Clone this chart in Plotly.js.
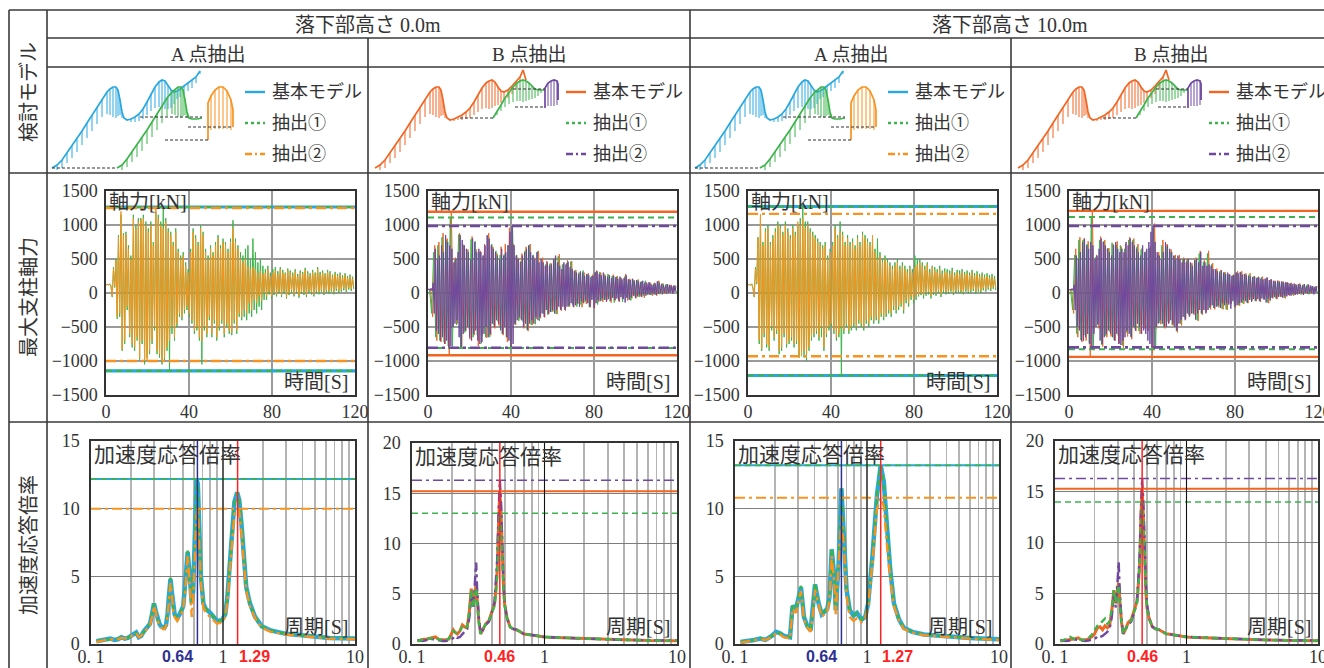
<!DOCTYPE html>
<html>
<head>
<meta charset="utf-8">
<script src="https://cdn.plot.ly/plotly-3.0.1.min.js"></script>
<style>
html,body{margin:0;padding:0;background:#ffffff;overflow:hidden;}
#chart{width:1324px;height:668px;}
</style>
</head>
<body>
<div id="chart"></div>
<script>
// ================= DATA =================
const heightLabels = ['落下部高さ 0.0m', '落下部高さ 10.0m'];
const pointLabels = ['A 点抽出', 'B 点抽出', 'A 点抽出', 'B 点抽出'];
const rowLabels = ['検討モデル', '最大支柱軸力', '加速度応答倍率'];
const seriesNames = ['基本モデル', '抽出①', '抽出②'];
const axialTitle = '軸力[kN]', timeTitle = '時間[S]';
const specTitle = '加速度応答倍率', periodTitle = '周期[S]';
const timeTicks = [0, 40, 80, 120];
const axialTicks = [-1500, -1000, -500, 0, 500, 1000, 1500];
const periodTicks = [0.1,0.2,0.3,0.4,0.5,0.6,0.7,0.8,0.9,1,2,3,4,5,6,7,8,9,10];
const periodTickText = ['0. 1','','','','','','','','','1','','','','','','','','','10'];
const ratioTicksA = [0, 5, 10, 15];
const ratioTicksB = [0, 5, 10, 15, 20];

// sampling of the axial-force histories [s]
const stepA = 0.6, stepPurple = 0.5, stepB = 1.0;

// ---- axial force, A point, drop height 0.0 m ----
const axA00_green = [120,128,115,135,100,-60,380,80,500,-380,
850,-350,1150,-850,880,-750,900,-250,700,-650,
550,-800,1150,-850,1000,-700,1100,-980,1100,-750,
1150,-1050,1050,-950,950,-900,1050,-750,750,-550,
1200,-900,1150,-950,1050,-1050,1260,-1000,1100,-850,
950,-1150,900,-600,750,-700,950,-500,650,-350,
550,-400,600,-300,450,-250,350,-350,650,-450,
950,-600,850,-550,750,-700,1000,-1050,900,-550,
650,-650,550,-400,700,-650,600,-450,750,-700,
850,-550,700,-450,800,-650,750,-500,650,-600,
800,-620,1070,-450,800,-600,700,-350,600,-400,
550,-350,650,-400,700,-300,500,-350,800,-250,
600,-300,450,-200,500,-250,400,-100,350,-100,
400,-20,300,-80,350,-30,380,-50,320,0,
380,-60,340,-10,300,-80,360,-30,330,10,
300,-50,350,0,280,-70,330,-10,310,-30,
370,-60,320,10,290,-20,340,-50,300,0,
380,-20,310,20,330,-30,290,10,340,-10,
320,20,270,-20,310,30,280,0,300,20,
260,40,290,10,250,50,270,30,240,60];
const axA00_orange = [120,125,118,130,110,-50,350,100,480,-350,
820,-300,1200,-830,850,-700,860,-200,650,-600,
500,-750,1100,-800,950,-650,1050,-950,1080,-700,
1100,-1000,1000,-1000,900,-850,1000,-700,700,-500,
1250,-850,1100,-900,1000,-1000,950,-950,1050,-800,
900,-700,850,-500,700,-650,900,-450,600,-300,
500,-350,550,-250,400,-200,300,-300,600,-400,
900,-550,800,-500,700,-650,950,-700,850,-500,
600,-600,500,-350,650,-600,550,-400,700,-650,
800,-500,650,-400,750,-600,700,-450,600,-550,
750,-580,950,-400,750,-550,650,-300,500,-350,
450,-250,500,-300,400,-150,350,-250,380,-100,
350,-150,300,-50,320,-120,280,0,300,-50,
350,20,250,-50,300,0,330,-20,280,30,
350,-30,300,20,280,-60,330,0,300,40,
260,-20,320,30,250,-40,300,20,280,0,
340,-30,290,40,260,10,310,-20,270,30,
350,10,280,50,300,0,260,40,310,20,
290,50,240,10,280,60,250,30,270,50,
230,70,260,40,220,80,240,60,210,90];
const axMaxA00 = [1265, 1265, 1250];   // 基本, 抽出①, 抽出②
const axMinA00 = [-1145, -1145, -1000];

// ---- axial force, B point, drop height 0.0 m ----
const axB00_purple = [50,60,40,70,30,150,-300,650,-550,500,
-600,550,-700,700,-650,600,-750,850,-700,750,
-800,700,-780,650,-500,450,-450,500,-400,600,
-650,850,-800,780,-600,700,-550,650,-500,600,
-650,500,-700,800,-600,750,-550,600,-700,650,
-750,600,-720,550,-600,700,-500,850,-650,800,
-600,700,-450,650,-500,600,-400,550,-450,500,
-550,650,-600,550,-500,600,-650,700,-700,900,
-800,985,-750,700,-450,550,-400,500,-350,450,
-400,550,-500,600,-450,650,-540,700,-450,600,
-400,550,-450,500,-350,600,-400,450,-350,500,
-300,450,-350,400,-250,450,-300,400,-280,420,
-250,500,-300,550,-250,450,-200,400,-250,350,
-200,450,-250,420,-200,460,-180,380,-150,350,
-200,320,-180,300,-150,280,-200,320,-120,300,
-150,250,-100,280,-150,260,-200,230,-100,250,
-220,300,-150,320,-100,280,-120,260,-80,300,
-100,250,-130,240,-90,260,-110,220,-70,250,
-100,230,-80,210,-120,240,-60,200,-90,220,
-140,260,-70,200,-100,190,-60,210,-40,180,
-70,190,-50,170,-30,160,-60,180,-20,150,
-40,140,-10,160,-30,130,0,120,-20,140,
-30,170,-10,150,0,130,-20,120,10,110,
-10,130,0,120,10,100,-10,110,20,100];
const axB00_orange = [50,60,-350,700,-700,750,-720,880,-750,800,
-915,1195,-500,520,-450,880,-820,700,-560,640,
-680,830,-620,640,-780,620,-620,720,-660,880,
-620,680,-520,580,-480,680,-620,720,-720,960,
-790,720,-470,520,-380,580,-520,680,-560,720,
-470,520,-380,620,-370,520,-360,470,-310,440,
-270,520,-310,570,-260,420,-260,480,-200,470,
-210,340,-160,300,-210,300,-160,290,-210,270,
-230,330,-130,300,-130,270,-110,260,-140,270,
-110,250,-130,220,-80,280,-110,210,-80,190,
-80,200,-50,170,-70,160,-20,150,-40,150,
-40,180,-10,140,-10,130,10,120,10,110];
const axB00_green = [50,-300,600,-650,700,-700,820,-720,780,-780,
1110,-810,480,-470,860,-800,720,-580,630,-520,
790,-650,760,-620,600,-740,550,-650,840,-650,
720,-470,620,-420,560,-600,570,-650,700,-805,
980,-460,560,-410,470,-420,620,-540,700,-470,
560,-460,610,-410,470,-310,420,-320,430,-280,
500,-310,540,-220,420,-220,440,-200,460,-170,
330,-200,300,-170,330,-130,270,-210,250,-110,
310,-170,310,-110,280,-100,280,-120,250,-140,
240,-90,230,-130,240,-70,200,-110,200,-50,
190,-60,170,-40,180,-30,150,-30,140,-20,
170,-20,140,0,130,0,110,20,110,10];
const axMaxB00 = [1195, 1110, 985];    // 基本, 抽出①, 抽出②
const axMinB00 = [-915, -810, -805];

// ---- axial force, A point, drop height 10.0 m ----
const axA10_green = [120,128,112,135,70,-60,380,130,820,-750,
1100,-850,750,-650,950,-800,1000,-850,750,-550,
850,-700,950,-600,1050,-900,1000,-850,900,-650,
1050,-800,950,-750,850,-700,1000,-800,900,-750,
1000,-950,1100,-900,1272,-950,1050,-1000,1050,-850,
950,-700,900,-650,850,-600,800,-700,750,-650,
700,-850,750,-650,550,-550,650,-500,750,-600,
1000,-700,850,-650,1050,-1215,900,-600,750,-500,
850,-600,750,-550,800,-500,700,-550,850,-450,
750,-500,900,-550,850,-450,800,-500,750,-400,
800,-450,650,-400,800,-450,600,-350,500,-400,
550,-350,500,-300,450,-350,400,-250,450,-300,
500,-250,400,-200,450,-300,400,-150,350,-200,
400,-100,350,-150,550,-100,500,-50,500,-30,
450,-80,400,-40,450,-20,350,-80,400,-30,
380,-40,350,0,400,-60,330,0,360,-20,
350,-10,330,20,370,-30,300,0,340,10,
330,0,350,-20,310,20,330,-10,300,10,
340,30,290,-10,320,20,280,0,300,40,
270,20,290,50,260,30,280,60,250,40];
const axA10_orange = [120,125,115,130,80,-50,350,150,800,-690,
1160,-815,700,-600,900,-750,950,-800,700,-500,
800,-650,900,-550,1000,-850,950,-800,850,-600,
1000,-750,900,-700,800,-650,950,-750,850,-700,
1050,-900,1000,-930,1100,-850,950,-900,1000,-800,
900,-650,850,-600,800,-550,750,-650,700,-500,
650,-800,700,-600,500,-500,600,-450,700,-550,
950,-650,800,-600,900,-500,850,-550,700,-450,
800,-550,700,-500,750,-450,650,-500,800,-400,
700,-450,850,-500,800,-400,750,-450,700,-350,
850,-400,600,-350,500,-400,550,-300,450,-350,
500,-300,450,-250,400,-300,350,-200,400,-250,
450,-200,350,-150,400,-250,350,-100,300,-150,
350,-50,300,-100,380,-50,420,-20,450,0,
400,-30,350,0,420,20,300,-40,380,10,
330,0,300,30,350,-20,280,40,320,10,
300,20,280,50,320,0,260,30,300,40,
280,30,310,10,270,50,290,20,260,40,
300,60,250,20,280,50,240,30,260,70,
230,50,250,80,220,60,240,90,210,70];
const axMaxA10 = [1272, 1272, 1163];
const axMinA10 = [-1213, -1213, -930];

// ---- axial force, B point, drop height 10.0 m ----
const axB10_purple = [40,55,45,65,35,120,-250,550,-500,500,
-550,600,-700,750,-700,800,-650,700,-600,650,
-750,750,-800,700,-600,500,-500,550,-450,650,
-700,800,-750,750,-650,700,-600,650,-550,600,
-600,550,-650,700,-700,750,-600,650,-750,600,
-765,650,-700,600,-650,750,-550,700,-600,800,
-650,750,-500,700,-550,650,-450,600,-500,550,
-600,700,-550,600,-600,650,-700,750,-750,900,
-800,985,-780,750,-500,600,-450,550,-400,500,
-450,600,-500,750,-500,700,-450,650,-400,600,
-450,550,-500,500,-550,550,-450,500,-400,450,
-350,500,-400,450,-300,500,-350,450,-300,400,
-300,480,-390,500,-300,450,-250,600,-300,400,
-250,450,-300,400,-250,420,-200,400,-180,350,
-220,350,-200,320,-180,300,-220,330,-150,300,
-180,280,-150,300,-170,270,-230,250,-120,260,
-200,300,-180,290,-150,310,-140,270,-100,280,
-120,260,-140,250,-100,240,-130,230,-90,240,
-110,220,-90,230,-120,210,-80,200,-100,210,
-140,230,-80,190,-110,200,-70,180,-60,170,
-80,180,-60,160,-50,170,-70,150,-40,160,
-50,150,-30,140,-40,130,-10,140,-30,120,
-20,130,-10,120,0,110,-30,130,0,100,
-10,120,10,110,0,100,-20,90,10,100];
const axB10_orange = [40,60,-300,650,-650,820,-720,800,-700,760,
-940,1208,-520,560,-520,830,-790,780,-650,660,
-640,720,-700,760,-740,680,-810,720,-640,820,
-680,800,-560,720,-600,660,-520,620,-560,690,
-890,1020,-520,600,-460,780,-520,720,-440,640,
-480,560,-580,560,-480,520,-380,510,-330,440,
-320,520,-410,620,-320,480,-280,620,-240,440,
-240,360,-210,340,-240,310,-250,280,-160,270,
-220,320,-190,320,-160,290,-150,290,-110,250,
-120,240,-130,240,-90,220,-150,200,-80,180,
-90,180,-60,170,-80,160,-40,150,-40,130,
-20,140,-20,130,0,130,-10,100,10,100];
const axB10_green = [45,-250,560,-600,780,-690,780,-620,720,-740,
1119,-826,530,-470,780,-760,760,-630,660,-570,
740,-690,700,-630,700,-770,650,-580,780,-640,
780,-520,680,-560,640,-470,600,-540,660,-700,
950,-780,560,-440,700,-500,680,-420,600,-470,
540,-560,520,-450,500,-360,480,-320,420,-300,
480,-400,580,-300,460,-260,580,-220,420,-220,
340,-200,320,-230,300,-240,260,-150,260,-210,
300,-180,300,-150,270,-140,270,-100,240,-120,
230,-120,230,-80,210,-140,190,-70,170,-80,
170,-50,160,-70,150,-30,140,-30,120,-10,
130,-20,120,0,120,-20,90,10,100,0];
const axMaxB10 = [1208, 1119, 985];
const axMinB10 = [-940, -826, -800];

// ---- acceleration response ratio, A point, 0.0 m ----
const spT_A00 = [0.11,0.12,0.13,0.14,0.15,0.16,0.17,0.18,0.19,0.20,
0.21,0.22,0.23,0.24,0.25,0.26,0.27,0.28,0.29,0.30,
0.31,0.32,0.33,0.34,0.35,0.36,0.37,0.38,0.39,0.40,
0.41,0.42,0.43,0.45,0.47,0.50,0.52,0.54,0.555,0.57,
0.58,0.595,0.61,0.63,0.645,0.66,0.68,0.71,0.74,0.80,
0.85,0.90,0.98,1.04,1.08,1.12,1.17,1.22,1.28,1.33,
1.39,1.45,1.50,1.60,1.75,1.97,2.3,3.0,4.3,6.4,10];
const spA00_blue = [0.2,0.25,0.3,0.4,0.3,0.35,0.5,0.4,0.45,0.6,
0.7,0.85,0.5,0.6,0.9,1.1,1.3,1.5,2.2,3.0,
2.4,1.8,1.5,1.3,1.2,1.2,1.4,2.2,3.6,4.8,
3.8,2.6,2.2,1.9,2.2,2.8,4.5,6.8,5.5,3.5,
3.0,4.0,7.0,12.2,11.8,8.0,5.0,3.0,2.6,2.3,
2.0,1.7,1.75,2.2,3.5,5.5,8.5,10.5,11.2,10.6,
8.5,6.0,4.2,3.0,2.0,1.3,1.0,0.75,0.6,0.45,0.4];
const spA00_green = [0.2,0.3,0.3,0.35,0.3,0.4,0.5,0.45,0.45,0.6,
0.75,0.8,0.55,0.6,0.9,1.1,1.3,1.5,2.3,3.0,
2.4,1.8,1.5,1.3,1.2,1.2,1.4,2.3,3.7,4.9,
3.8,2.6,2.2,1.9,2.2,2.8,4.5,6.9,5.5,3.5,
3.0,4.0,7.0,12.2,11.7,8.0,5.0,3.0,2.6,2.3,
2.0,1.7,1.75,2.2,3.5,5.5,8.5,10.5,11.2,10.6,
8.5,6.0,4.2,3.0,2.0,1.3,1.0,0.75,0.6,0.45,0.4];
const spA00_orange = [0.15,0.25,0.3,0.35,0.3,0.35,0.45,0.4,0.45,0.55,
0.7,0.8,0.5,0.6,0.8,1.0,1.2,1.4,2.0,2.8,
2.3,1.7,1.4,1.2,1.1,1.1,1.3,2.0,3.4,4.5,
3.6,2.4,2.0,1.7,2.0,2.6,4.2,6.5,5.0,3.0,
2.0,3.5,6.0,9.6,10.0,7.5,4.6,2.7,2.3,2.0,
1.7,1.5,1.6,2.0,3.2,5.0,7.8,9.6,10.0,9.7,
7.8,5.6,3.9,2.8,1.9,1.2,0.9,0.7,0.55,0.4,0.35];
const spMaxA00 = [12.2, 12.2, 10.0];
const spRefA00 = [0.64, 1.29];

// ---- acceleration response ratio, B point, 0.0 m ----
const spT_B00 = [0.11,0.12,0.13,0.14,0.15,0.16,0.17,0.18,0.19,0.20,
0.205,0.21,0.22,0.23,0.24,0.25,0.26,0.27,0.28,0.29,
0.30,0.305,0.31,0.32,0.33,0.34,0.36,0.38,0.40,0.42,
0.43,0.44,0.45,0.46,0.47,0.48,0.49,0.50,0.52,0.55,
0.58,0.62,0.66,0.70,0.75,0.80,0.90,1.0,1.2,1.5,
2.0,3.0,4.0,6.0,10.0];
const spB00_orange = [0.3,0.45,0.5,0.6,0.7,0.45,0.4,0.4,0.5,1.2,
1.4,1.2,1.0,1.3,1.9,1.7,1.6,3.0,5.5,3.8,
5.2,5.9,4.5,2.2,1.0,1.4,2.0,2.3,3.2,4.0,
5.5,7.5,12.0,15.2,13.0,9.0,6.0,4.0,2.7,1.7,
1.5,1.4,1.2,1.0,0.95,0.9,0.8,0.7,0.65,0.6,
0.55,0.45,0.4,0.35,0.33];
const spB00_green = [0.3,0.4,0.55,0.55,0.65,0.45,0.45,0.4,0.55,1.1,
1.3,1.2,1.0,1.3,1.8,1.6,1.7,3.2,5.4,3.6,
5.0,5.6,4.2,2.0,1.0,1.4,2.0,2.3,3.1,3.8,
5.0,6.8,10.5,13.0,11.5,8.0,5.5,3.8,2.6,1.7,
1.5,1.4,1.2,1.0,0.95,0.9,0.8,0.7,0.65,0.6,
0.55,0.45,0.4,0.35,0.33];
const spB00_purple = [0.4,0.3,0.4,0.5,0.45,0.35,0.3,0.3,0.35,0.5,
0.6,0.8,0.6,0.7,1.0,1.2,1.5,2.5,4.8,3.5,
6.5,8.1,5.5,2.5,1.0,1.3,1.9,2.2,3.1,4.2,
6.0,8.5,13.0,16.3,14.0,9.5,6.2,4.0,2.6,1.7,
1.5,1.4,1.2,1.0,0.95,0.9,0.8,0.7,0.65,0.6,
0.55,0.45,0.4,0.38,0.35];
const spMaxB00 = [15.2, 13.0, 16.3];
const spRefB00 = [0.46];

// ---- acceleration response ratio, A point, 10.0 m ----
const spT_A10 = [0.11,0.126,0.14,0.155,0.17,0.19,0.205,0.219,0.235,0.261,
0.273,0.29,0.303,0.316,0.333,0.354,0.374,0.39,0.404,0.43,
0.454,0.50,0.52,0.54,0.565,0.58,0.61,0.64,0.67,0.70,
0.74,0.79,0.84,0.91,0.97,1.02,1.1,1.19,1.27,1.34,
1.41,1.5,1.6,1.75,1.9,2.2,2.7,4.0,6.0,10.0];
const spA10_blue = [0.15,0.2,0.3,0.4,0.3,0.6,0.9,0.8,0.6,0.5,
2.8,2.6,3.5,4.2,2.0,1.3,1.0,2.5,4.4,3.0,
2.2,2.6,3.5,7.0,5.0,2.5,6.0,11.5,8.0,4.0,
2.5,2.1,2.3,1.8,2.0,3.0,6.5,11.0,13.2,12.0,
9.0,5.5,3.0,1.8,1.2,0.9,0.7,0.55,0.45,0.35];
const spA10_green = [0.15,0.25,0.3,0.45,0.3,0.6,0.85,0.8,0.6,0.5,
2.9,2.7,3.6,4.3,2.0,1.3,1.0,2.6,4.5,3.0,
2.2,2.6,3.6,7.1,5.0,2.5,6.0,11.5,8.0,4.0,
2.5,2.1,2.3,1.8,2.0,3.0,6.5,11.0,13.2,12.0,
9.0,5.5,3.0,1.8,1.2,0.9,0.7,0.55,0.45,0.35];
const spA10_orange = [0.1,0.2,0.25,0.35,0.3,0.5,0.8,0.7,0.5,0.4,
2.6,2.3,3.2,3.9,1.8,1.2,0.9,2.3,4.0,2.8,
2.0,2.4,3.2,6.5,4.5,2.2,5.5,9.5,7.0,3.6,
2.0,1.7,1.9,1.6,1.9,2.8,6.0,10.0,10.8,10.2,
7.5,4.8,2.8,1.7,1.1,0.85,0.65,0.5,0.4,0.3];
const spMaxA10 = [13.2, 13.2, 10.8];
const spRefA10 = [0.64, 1.27];

// ---- acceleration response ratio, B point, 10.0 m ----
const spT_B10 = [0.11,0.12,0.13,0.14,0.15,0.16,0.17,0.18,0.19,0.20,
0.205,0.21,0.22,0.23,0.24,0.25,0.26,0.27,0.28,0.29,
0.30,0.305,0.31,0.32,0.33,0.34,0.36,0.38,0.40,0.42,
0.43,0.44,0.45,0.46,0.47,0.48,0.49,0.50,0.52,0.55,
0.58,0.62,0.66,0.70,0.75,0.80,0.90,1.0,1.2,1.5,
2.0,3.0,4.0,6.0,10.0];
const spB10_orange = [0.3,0.4,0.45,0.5,0.6,0.4,0.4,0.5,0.7,1.0,
1.3,1.6,1.7,1.4,1.8,1.6,1.8,3.2,5.3,4.0,
5.6,6.0,4.6,2.2,1.0,1.3,2.1,2.4,3.3,4.2,
5.8,7.8,12.5,15.3,12.5,8.5,5.5,3.6,2.5,1.7,
1.5,1.4,1.2,1.0,0.95,0.9,0.8,0.7,0.65,0.6,
0.5,0.45,0.4,0.35,0.33];
const spB10_green = [0.3,0.45,0.7,0.5,0.5,0.4,0.45,0.6,0.9,1.3,
1.6,1.8,2.0,2.3,2.5,2.0,2.2,3.4,5.3,4.0,
5.5,5.8,4.4,2.1,1.0,1.3,2.0,2.3,3.2,4.0,
5.5,7.5,11.5,14.0,12.0,8.0,5.3,3.5,2.5,1.7,
1.5,1.4,1.2,1.0,0.95,0.9,0.8,0.7,0.65,0.6,
0.5,0.45,0.4,0.35,0.33];
const spB10_purple = [0.4,0.3,0.35,0.45,0.4,0.35,0.3,0.35,0.4,0.5,
0.6,0.8,0.7,0.8,1.0,1.2,1.5,2.6,4.8,3.6,
6.5,8.1,5.5,2.5,1.0,1.3,1.9,2.2,3.1,4.2,
6.0,8.5,13.0,16.3,14.0,9.5,6.2,4.0,2.6,1.7,
1.5,1.4,1.2,1.0,0.95,0.9,0.8,0.7,0.65,0.6,
0.55,0.45,0.4,0.38,0.35];
const spMaxB10 = [15.3, 14.0, 16.3];
const spRefB10 = [0.46];
const unitPeriod = 1.0;

// ---- schematic model drawings (cell-relative units) ----
const schA_baseX = [5,10,15,20,25,30,35,40,45,50,55,60,63,66,69,71,73,75,77,80,84,88,92,96,100,104,108,112,115,118,121,124,127,130,133,137,141,145,149,153];
const schA_baseY = [168,165,160,153,146,139,131,123,115,107,99,92,89,87,87,90,100,112,118,120,119,117,114,109,102,94,87,82,80,81,85,90,92,91,89,86,83,80,77,71];
const schA_baseL = [0,5,8,10,12,13,14,15,16,17,18,22,26,30,31,26,15,6,0,0,3,5,7,10,13,17,21,25,28,28,24,18,12,8,8,8,8,8,6,3];
const schA_ex1X = [70,75,80,85,90,95,100,105,110,115,120,125,128,131,134,136,138,140,142,145,150,155];
const schA_ex1Y = [168,165,159,152,145,138,130,122,114,106,98,92,89,87,87,90,100,112,118,119,119,118];
const schA_ex1L = [0,5,8,10,12,13,14,15,16,17,18,22,26,30,31,26,15,6,0,0,0,0];
const schA_ex2X = [161,161,164,168,172,176,180,184,186,186];
const schA_ex2Y = [140,103,96,90,87,87,91,100,110,127];
const schA_ex2L = [0,0,34,39,42,42,38,30,0,0];
const schA_dashX = [5,70,null,93,155,null,118,163,null,141,186];
const schA_dashY = [168,168,null,117,117,null,140,140,null,127,127];

const schB_baseX = [7,12,17,22,27,32,37,42,47,52,57,62,65,68,71,73,75,77,79,82,86,90,94,98,102,106,110,114,118,121,124,127,130,133,136,140,144,148,152,155,158];
const schB_baseY = [168,165,160,153,146,139,131,123,115,107,99,92,89,87,87,90,100,112,118,120,119,117,115,112,108,102,95,88,83,81,80,82,87,91,92,90,86,82,77,70,80];
const schB_baseL = [0,5,8,10,12,13,14,15,16,17,18,22,26,30,31,26,15,6,0,0,2,3,5,7,10,13,17,21,25,28,28,24,18,12,8,8,8,7,5,0,0];
const schB_ex1X = [125,129,133,137,141,145,149,152,155,158,161,164,167,170,173,177];
const schB_ex1Y = [118,112,105,98,92,87,83,81,80,81,83,86,89,90,90,90];
const schB_ex1L = [0,3,6,9,12,15,18,20,22,20,17,13,9,6,3,0];
const schB_ex2X = [177,177,180,183,186,189,190,190];
const schB_ex2Y = [108,88,83,81,80,81,84,100];
const schB_ex2L = [0,0,23,25,26,24,16,0];
const schB_dashX = [92,125,null,145,177,null,147,177];
const schB_dashY = [118,118,null,89,89,null,107,107];

// ================= RENDERING =================
const W = 1324, H = 668;
const px = v => v / W, py = v => 1 - v / H;
const CLR = {blue:'#29a8e0', green:'#3cb44b', orange:'#f7931e', vermil:'#f26522', purple:'#7048a0',
             navy:'#2e3192', red:'#ff2222', ink:'#333333'};
const NUM = 'Liberation Serif, Noto Sans CJK JP, serif';
const JP = 'Liberation Serif, Noto Sans CJK JP, sans-serif';
const colL = [47, 368, 690, 1011], colR = [368, 690, 1011, 1324];
const axBox = [[106,355],[428,677],[748,997],[1069,1318]], axTop = 191, axBot = 395;
const spBox = [[91,355],[412,677],[735,999],[1055,1318]], spTop = [441,443,441,441], spBot = 644;

const id = n => n === 1 ? '' : String(n);
const layout = {width:W, height:H, autosize:false, margin:{l:0,r:0,t:0,b:0,pad:0},
  paper_bgcolor:'#ffffff', plot_bgcolor:'#ffffff', showlegend:false, hovermode:false,
  shapes:[], annotations:[]};
const data = [];
function ann(o){ layout.annotations.push(Object.assign({showarrow:false, xanchor:'center', yanchor:'middle',
  font:{family:JP,size:18,color:CLR.ink}}, o)); }
function line(ax, x, y, color, width, dash){
  data.push({type:'scatter', mode:'lines', x:x, y:y, xaxis:'x'+id(ax), yaxis:'y'+id(ax),
    line:{color:color, width:width, dash:dash||'solid'}, hoverinfo:'skip', connectgaps:false});
}
function series(ax, y, x0, dx, color, width){
  data.push({type:'scatter', mode:'lines', y:y, x0:x0, dx:dx, xaxis:'x'+id(ax), yaxis:'y'+id(ax),
    line:{color:color, width:width}, hoverinfo:'skip'});
}
function hatch(X, Y, L){ const x=[], y=[]; for(let i=0;i<X.length;i++){ if(L[i]>0){ x.push(X[i],X[i],null); y.push(Y[i],Y[i]+L[i],null);} } return {x,y}; }

const DASH = '6px,4px', DASHDOT = '10px,4px,3px,4px', LEG_DOT = '3px,3px', LEG_DD = '7px,3px,2px,3px';

// ---- table grid ----
const gridLines = [
  [9,10,W,10],[47,38,W,38],[47,67,W,67],[9,173,W,173],[9,422,W,422],
  [9,10,9,H],[47,10,47,H],[368,38,368,H],[690,10,690,H],[1011,38,1011,H]];
gridLines.forEach(g => layout.shapes.push({type:'line', xref:'paper', yref:'paper',
  x0:px(g[0]), y0:py(g[1]), x1:px(g[2]), y1:py(g[3]), line:{color:'#3a3a3a', width:1.6}}));

ann({text:heightLabels[0], xref:'paper', yref:'paper', x:px(368), y:py(25), font:{family:JP,size:20,color:CLR.ink}});
ann({text:heightLabels[1], xref:'paper', yref:'paper', x:px(1010), y:py(25), font:{family:JP,size:20,color:CLR.ink}});
[207.5, 529, 850.5, 1171].forEach((cx,i) => ann({text:pointLabels[i], xref:'paper', yref:'paper', x:px(cx), y:py(54), font:{family:JP,size:19,color:CLR.ink}}));
[92, 297, 545].forEach((cy,i) => ann({text:rowLabels[i], xref:'paper', yref:'paper', x:px(29), y:py(cy), textangle:-90, font:{family:JP,size:20,color:CLR.ink}}));

// ---- row 1: schematic models ----
const schemA = {parts:[[schA_baseX,schA_baseY,schA_baseL],[schA_ex1X,schA_ex1Y,schA_ex1L],[schA_ex2X,schA_ex2Y,schA_ex2L]],
  dash:[schA_dashX,schA_dashY], colors:[CLR.blue,CLR.green,CLR.orange]};
const schemB = {parts:[[schB_baseX,schB_baseY,schB_baseL],[schB_ex1X,schB_ex1Y,schB_ex1L],[schB_ex2X,schB_ex2Y,schB_ex2L]],
  dash:[schB_dashX,schB_dashY], colors:[CLR.vermil,CLR.green,CLR.purple]};
for(let i=0;i<4;i++){
  const n = i+1, s = (i%2===0) ? schemA : schemB;
  layout['xaxis'+id(n)] = {domain:[px(colL[i]),px(colR[i])], range:[0,colR[i]-colL[i]], visible:false, fixedrange:true, anchor:'y'+id(n)};
  layout['yaxis'+id(n)] = {domain:[py(172),py(68)], range:[172,68], visible:false, fixedrange:true, anchor:'x'+id(n)};
  s.parts.forEach((p,k) => {
    const h = hatch(p[0],p[1],p[2]);
    line(n, h.x, h.y, s.colors[k], 1);
    line(n, p[0], p[1], s.colors[k], 1.7);
  });
  line(n, s.dash[0], s.dash[1], '#333333', 1.2, '3px,2px');
  const legY = [92,123,154], legDash = ['solid', LEG_DOT, LEG_DD];
  for(let k=0;k<3;k++){
    line(n, [198,218], [legY[k],legY[k]], s.colors[k], 2.4, legDash[k]);
    ann({text:seriesNames[k], xref:'x'+id(n), yref:'y'+id(n), x:223, y:legY[k], xanchor:'left', yanchor:'middle',
      font:{family:JP,size:18,color:CLR.ink}});
  }
}

// ---- row 2: axial-force histories ----
const axialPanels = [
  {ts:[[axA00_green,0,stepA,CLR.green],[axA00_orange,0,stepA,CLR.orange]], max:axMaxA00, min:axMinA00, kind:'A'},
  {ts:[[axB00_orange,0.25,stepB,CLR.vermil],[axB00_green,0.75,stepB,CLR.green],[axB00_purple,0,stepPurple,CLR.purple]], max:axMaxB00, min:axMinB00, kind:'B'},
  {ts:[[axA10_green,0,stepA,CLR.green],[axA10_orange,0,stepA,CLR.orange]], max:axMaxA10, min:axMinA10, kind:'A'},
  {ts:[[axB10_orange,0.25,stepB,CLR.vermil],[axB10_green,0.75,stepB,CLR.green],[axB10_purple,0,stepPurple,CLR.purple]], max:axMaxB10, min:axMinB10, kind:'B'}];
const tEnd = timeTicks[timeTicks.length-1];
axialPanels.forEach((P,i) => {
  const n = i+5;
  layout['xaxis'+id(n)] = {domain:[px(axBox[i][0]),px(axBox[i][1])], range:[0,tEnd], tickvals:timeTicks, ticktext:timeTicks.map(String),
    showgrid:true, gridcolor:'#9a9a9a', gridwidth:1.1, zeroline:false, showline:true, mirror:true, linecolor:'#333', linewidth:1.6,
    ticks:'', ticklabeloverflow:'allow', tickfont:{family:NUM,size:18,color:CLR.ink}, anchor:'y'+id(n), fixedrange:true};
  layout['yaxis'+id(n)] = {domain:[py(axBot),py(axTop)], range:[axialTicks[0],axialTicks[axialTicks.length-1]], tickvals:axialTicks,
    showgrid:true, gridcolor:'#9a9a9a', gridwidth:1.1, zeroline:false, showline:true, mirror:true, linecolor:'#333', linewidth:1.6,
    ticks:'', ticklabelstandoff:3, ticklabeloverflow:'allow', tickfont:{family:NUM,size:18,color:CLR.ink}, anchor:'x'+id(n), fixedrange:true};
  P.ts.forEach(t => series(n, t[0], t[1], t[2], t[3], 1));
  const styles = P.kind === 'A'
    ? [[CLR.blue,3.2,'solid'],[CLR.green,2,DASH],[CLR.orange,2.4,DASHDOT]]
    : [[CLR.vermil,2.4,'solid'],[CLR.green,2,DASH],[CLR.purple,2.6,DASHDOT]];
  for(let k=0;k<3;k++){
    line(n, [0,tEnd], [P.max[k],P.max[k]], styles[k][0], styles[k][1], styles[k][2]);
    line(n, [0,tEnd], [P.min[k],P.min[k]], styles[k][0], styles[k][1], styles[k][2]);
  }
  ann({text:axialTitle, xref:'x'+id(n)+' domain', yref:'y'+id(n)+' domain', x:0, y:1, xanchor:'left', yanchor:'top', xshift:1, yshift:2,
    font:{family:JP,size:20,color:CLR.ink}});
  ann({text:timeTitle, xref:'x'+id(n)+' domain', yref:'y'+id(n)+' domain', x:1, y:0, xanchor:'right', yanchor:'bottom', xshift:-5, yshift:0,
    font:{family:JP,size:20,color:CLR.ink}});
});

// ---- row 3: acceleration response spectra ----
const specPanels = [
  {T:spT_A00, s:[spA00_blue,spA00_green,spA00_orange], max:spMaxA00, ref:spRefA00, kind:'A', ticks:ratioTicksA},
  {T:spT_B00, s:[spB00_orange,spB00_purple,spB00_green], max:spMaxB00, ref:spRefB00, kind:'B', ticks:ratioTicksB},
  {T:spT_A10, s:[spA10_blue,spA10_green,spA10_orange], max:spMaxA10, ref:spRefA10, kind:'A', ticks:ratioTicksA},
  {T:spT_B10, s:[spB10_orange,spB10_purple,spB10_green], max:spMaxB10, ref:spRefB10, kind:'B', ticks:ratioTicksB}];
const pMin = periodTicks[0], pMax = periodTicks[periodTicks.length-1];
specPanels.forEach((P,i) => {
  const n = i+9, yTop = P.ticks[P.ticks.length-1];
  layout['xaxis'+id(n)] = {domain:[px(spBox[i][0]),px(spBox[i][1])], type:'log', range:[Math.log10(pMin),Math.log10(pMax)],
    tickvals:periodTicks, ticktext:periodTickText, showgrid:true, gridcolor:'#b4b4b4', gridwidth:1.8, zeroline:false,
    showline:true, mirror:true, linecolor:'#333', linewidth:1.6, ticks:'', ticklabelstandoff:-4, ticklabeloverflow:'allow',
    tickfont:{family:NUM,size:18,color:CLR.ink}, anchor:'y'+id(n), fixedrange:true};
  layout['yaxis'+id(n)] = {domain:[py(spBot),py(spTop[i])], range:[0,yTop], tickvals:P.ticks, showgrid:true, gridcolor:'#7d7d7d', gridwidth:1,
    zeroline:false, showline:true, mirror:true, linecolor:'#333', linewidth:1.6, ticks:'', ticklabelstandoff:6, ticklabeloverflow:'allow',
    tickfont:{family:NUM,size:18,color:CLR.ink}, anchor:'x'+id(n), fixedrange:true};
  let curveStyles, maxStyles;
  if(P.kind === 'A'){
    curveStyles = [[CLR.blue,4.5,'solid'],[CLR.green,2.6,DASH],[CLR.orange,2.4,DASHDOT]];
    maxStyles = [[CLR.blue,2,'solid'],[CLR.green,1.6,DASH],[CLR.orange,2,DASHDOT]];
    P.s.forEach((v,k) => line(n, P.T, v, curveStyles[k][0], curveStyles[k][1], curveStyles[k][2]));
    P.max.forEach((m,k) => line(n, [pMin,pMax], [m,m], maxStyles[k][0], maxStyles[k][1], maxStyles[k][2]));
  } else {
    // order of P.s : orange(基本), purple(抽出②), green(抽出①)
    curveStyles = [[CLR.vermil,3,'solid'],[CLR.purple,2.4,DASHDOT],[CLR.green,2.4,DASH]];
    P.s.forEach((v,k) => line(n, P.T, v, curveStyles[k][0], curveStyles[k][1], curveStyles[k][2]));
    maxStyles = [[CLR.vermil,2,'solid'],[CLR.green,1.5,DASH],[CLR.purple,1.6,DASHDOT]];
    P.max.forEach((m,k) => line(n, [pMin,pMax], [m,m], maxStyles[k][0], maxStyles[k][1], maxStyles[k][2]));
  }
  // reference periods
  line(n, [unitPeriod,unitPeriod], [0,yTop], '#111111', 1.1);
  P.ref.forEach((r,k) => {
    const isNavy = (P.kind === 'A' && k === 0);
    const c = isNavy ? CLR.navy : CLR.red;
    line(n, [r,r], [0,yTop], c, 1.5);
    let xa = 'center', xs = 0;
    if(P.kind === 'A'){ xa = isNavy ? 'right' : 'left'; xs = isNavy ? -2 : -1; }
    ann({text:'<b>'+r.toFixed(2)+'</b>', xref:'x'+id(n), yref:'paper', x:Math.log10(r), y:py(656), xanchor:xa, yanchor:'middle', xshift:xs,
      font:{family:'Liberation Sans, Arial, sans-serif', size:16, color:c}});
  });
  ann({text:specTitle, xref:'x'+id(n)+' domain', yref:'y'+id(n)+' domain', x:0, y:1, xanchor:'left', yanchor:'top', xshift:1, yshift:0,
    font:{family:JP,size:21,color:CLR.ink}});
  ann({text:periodTitle, xref:'x'+id(n)+' domain', yref:'y'+id(n)+' domain', x:1, y:0, xanchor:'right', yanchor:'bottom', xshift:-5, yshift:4,
    font:{family:JP,size:20,color:CLR.ink}});
});

Plotly.newPlot('chart', data, layout, {staticPlot:true, displayModeBar:false});
</script>
</body>
</html>
